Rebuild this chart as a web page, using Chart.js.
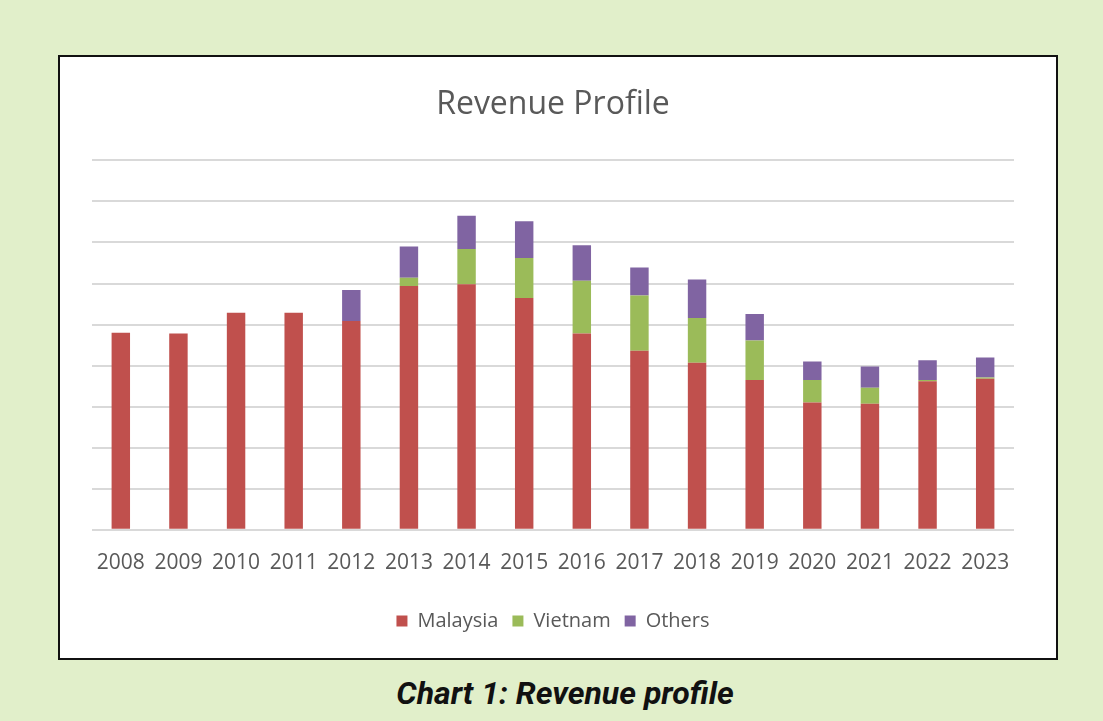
<!DOCTYPE html>
<html>
<head>
<meta charset="utf-8">
<script src="https://cdn.jsdelivr.net/npm/chart.js@4"></script>
<style>
  html, body { margin: 0; padding: 0; }
  body { width: 1103px; height: 721px; background: #e1efca; position: relative; overflow: hidden; }
  #box { position: absolute; left: 58px; top: 55px; width: 996px; height: 601px; border: 2px solid #111; background: #fff; }
  #caption { position: absolute; left: 0; width: 1130px; top: 674px; text-align: center;
             font-family: Roboto, sans-serif; font-weight: bold; font-style: italic; font-size: 32px; color: #111; }
</style>
</head>
<body>
<div id="box"><canvas id="revenueChart" width="996" height="601"></canvas></div>
<div id="caption">Chart 1: Revenue profile</div>
<script>
// values, in gridline units (no axis labels shown)
const years = ['2008', '2009', '2010', '2011', '2012', '2013', '2014', '2015',
               '2016', '2017', '2018', '2019', '2020', '2021', '2022', '2023'];
const malaysia = [4.80, 4.78, 5.29, 5.29, 5.09, 5.94, 5.98, 5.65, 4.78, 4.36, 4.07, 3.65, 3.10, 3.07, 3.62, 3.68];
const vietnam  = [0, 0, 0, 0, 0, 0.20, 0.86, 0.97, 1.29, 1.35, 1.09, 0.96, 0.55, 0.39, 0.03, 0.03];
const others   = [0, 0, 0, 0, 0.75, 0.76, 0.81, 0.90, 0.86, 0.68, 0.94, 0.65, 0.45, 0.52, 0.48, 0.49];

const textGrey = '#595959';
const font = '"Open Sans", sans-serif';

const ctx = document.getElementById('revenueChart').getContext('2d');
const revenueChart = new Chart(ctx, {
    type: 'bar',
    data: {
        labels: years,
        datasets: [
            { label: 'Malaysia', data: malaysia, backgroundColor: '#c0504d' },
            { label: 'Vietnam', data: vietnam, backgroundColor: '#9bbb59' },
            { label: 'Others', data: others, backgroundColor: '#8064a2' }
        ]
    },
    options: {
        responsive: false,
        animation: false,
        datasets: { bar: { categoryPercentage: 1, barPercentage: 0.32, borderWidth: 0 } },
        layout: { padding: { left: 32, right: 42, top: 0, bottom: 17 } },
        plugins: {
            title: {
                display: true,
                text: 'Revenue Profile',
                color: textGrey,
                font: { family: font, size: 32, weight: 'normal' },
                padding: { top: 29, bottom: 36 }
            },
            legend: {
                position: 'bottom',
                labels: {
                    color: textGrey,
                    font: { family: font, size: 20 },
                    boxWidth: 11,
                    boxHeight: 11,
                    padding: 14
                }
            },
            tooltip: { enabled: false }
        },
        scales: {
            x: {
                stacked: true,
                grid: { display: false, drawTicks: false },
                border: { display: false },
                ticks: { color: textGrey, font: { family: font, size: 21 }, padding: 21, maxRotation: 0 }
            },
            y: {
                stacked: true,
                min: 0,
                max: 9,
                grid: { color: '#d9d9d9', lineWidth: 2, drawTicks: false },
                border: { display: false },
                ticks: { display: false, stepSize: 1 }
            }
        }
    }
});
</script>
</body>
</html>
